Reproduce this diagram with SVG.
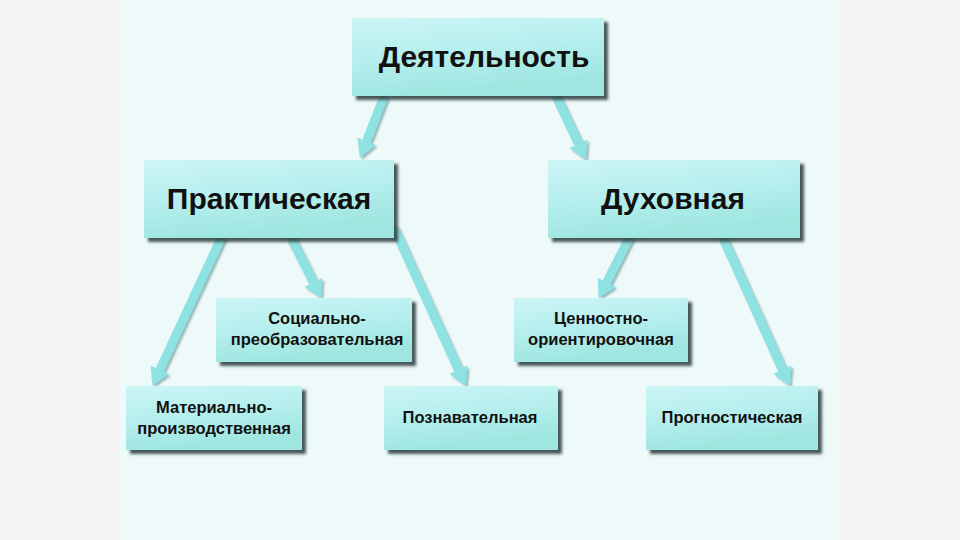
<svg xmlns="http://www.w3.org/2000/svg" width="960" height="540" viewBox="0 0 960 540">
  <defs>
    <linearGradient id="boxFill" x1="0" y1="0" x2="0.3" y2="1">
      <stop offset="0" stop-color="#cdf5f6"/>
      <stop offset="0.5" stop-color="#b6efee"/>
      <stop offset="1" stop-color="#9ee6df"/>
    </linearGradient>
    <filter id="boxShadow" x="-10%" y="-10%" width="125%" height="130%">
      <feDropShadow dx="4" dy="4" stdDeviation="1.5" flood-color="#2a3a3a" flood-opacity="0.85"/>
    </filter>
    <filter id="arrowShadow" x="-20%" y="-20%" width="150%" height="150%">
      <feDropShadow dx="2" dy="2" stdDeviation="1" flood-color="#5a8a8a" flood-opacity="0.6"/>
    </filter>
    <marker id="head" viewBox="0 -11 20 22" refX="0" refY="0" markerWidth="20" markerHeight="22" markerUnits="userSpaceOnUse" orient="auto">
      <path d="M0,-10 L18,0 L0,10 z" fill="#8fe2e2"/>
    </marker>
    <style>
      .box { fill: url(#boxFill); filter: url(#boxShadow); }
      .big { font-family: "Liberation Sans", Arial, sans-serif; font-weight: bold; font-size: 30px; fill: #111; text-anchor: middle; }
      .small { font-family: "Liberation Sans", Arial, sans-serif; font-weight: bold; font-size: 16.5px; fill: #111; text-anchor: middle; }
      .conn { stroke: #8fe2e2; stroke-width: 9; fill: none; marker-end: url(#head); }
    </style>
  </defs>

  <rect x="0" y="0" width="960" height="540" fill="#f3f3f3"/>
  <rect x="120" y="0" width="720" height="540" fill="#eefafa"/>

  <g id="connectors" filter="url(#arrowShadow)">
    <path class="conn" d="M384,96 L366.5,141.2"/>
    <path class="conn" d="M556,96 L578.4,143.7"/>
    <path class="conn" d="M222,236 L159.8,369.8"/>
    <path class="conn" d="M290,236 L313.3,282.2"/>
    <path class="conn" d="M394,228 L458.4,369.7"/>
    <path class="conn" d="M630,236 L606.7,282.2"/>
    <path class="conn" d="M722,236 L782.4,369.7"/>
  </g>

  <g id="node-activity">
    <rect class="box" x="352" y="18" width="252" height="78"/>
    <text class="big" x="484" y="67">Деятельность</text>
  </g>
  <g id="node-practical">
    <rect class="box" x="144" y="160" width="250" height="78"/>
    <text class="big" x="269" y="209">Практическая</text>
  </g>
  <g id="node-spiritual">
    <rect class="box" x="548" y="160" width="252" height="78"/>
    <text class="big" x="673" y="209">Духовная</text>
  </g>
  <g id="node-social">
    <rect class="box" x="216" y="298" width="196" height="64"/>
    <text class="small" x="317" y="324">Социально-</text>
    <text class="small" x="317" y="345">преобразовательная</text>
  </g>
  <g id="node-material">
    <rect class="box" x="126" y="386" width="176" height="64"/>
    <text class="small" x="214" y="413">Материально-</text>
    <text class="small" x="214" y="434">производственная</text>
  </g>
  <g id="node-cognitive">
    <rect class="box" x="384" y="386" width="174" height="64"/>
    <text class="small" x="470" y="423">Познавательная</text>
  </g>
  <g id="node-value">
    <rect class="box" x="514" y="298" width="174" height="64"/>
    <text class="small" x="601" y="324">Ценностно-</text>
    <text class="small" x="601" y="345">ориентировочная</text>
  </g>
  <g id="node-prognostic">
    <rect class="box" x="646" y="386" width="172" height="64"/>
    <text class="small" x="732" y="423">Прогностическая</text>
  </g>
</svg>
